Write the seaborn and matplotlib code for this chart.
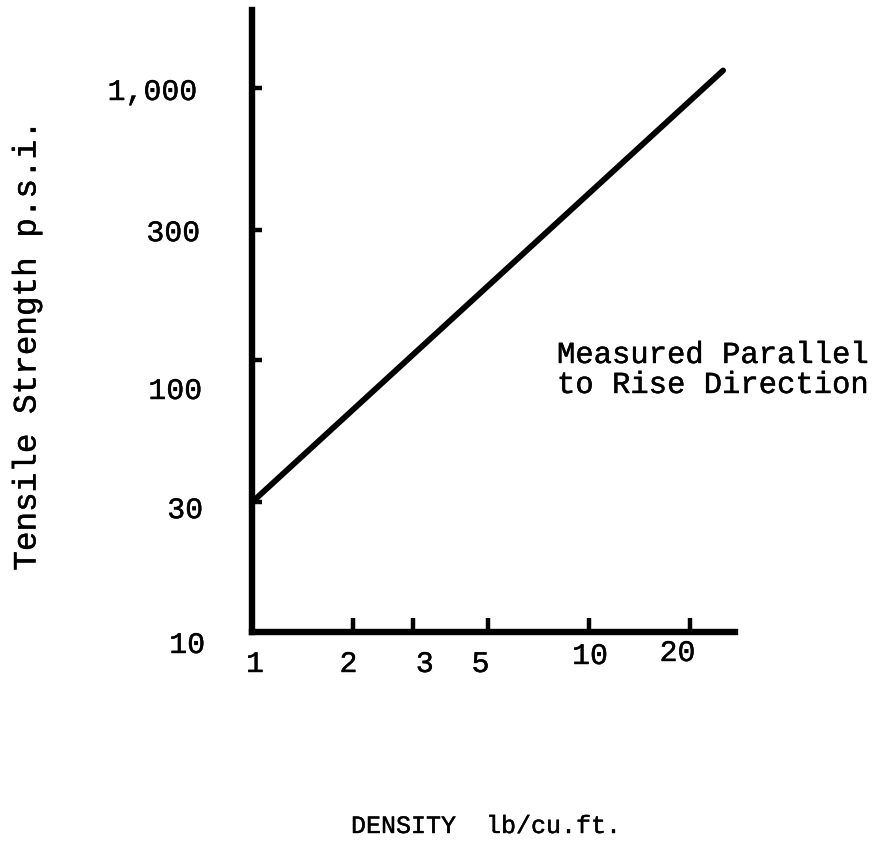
import matplotlib
matplotlib.use("Agg")
import matplotlib.pyplot as plt
import matplotlib.patheffects as pe
from matplotlib.ticker import FixedLocator, NullLocator
import numpy as np
import pandas as pd
import seaborn as sns

# ---- data ----
density = [1, 25]            # lb/cu.ft.
strength = [30, 1160]        # p.s.i.
x_ticks = [1, 2, 3, 5, 10, 20]
x_tick_labels = ["1", "2", "3", "5", "10", "20"]
y_ticks = [10, 30, 100, 300, 1000]
y_tick_labels = ["10", "30", "100", "300", "1,000"]
x_label = "DENSITY  lb/cu.ft."
y_label = "Tensile Strength p.s.i."
note_lines = ["Measured Parallel", "to Rise Direction"]

# ---- style / layout (pixel offsets of typed labels) ----
x_label_offsets = [(3, -32), (-5, -32), (12, -32), (-7, -32), (1, -24), (-13, -21)]
y_label_offsets = [(-47, -13), (-49, -8), (-50, -31), (-52, -3), (-55, -4)]

sns.set_style("white")
plt.rcParams["font.family"] = ["Liberation Mono", "DejaVu Sans"]

typed = [pe.withStroke(linewidth=0.3, foreground="black")]

W, H = 881, 844
fig = plt.figure(figsize=(W / 100, H / 100), dpi=100)
left_px, right_px, bottom_px, top_px = 252, 735, 632, 10
ax = fig.add_axes([left_px / W, 1 - bottom_px / H,
                   (right_px - left_px) / W, (bottom_px - top_px) / H])

df = pd.DataFrame({"density": density, "strength": strength})
sns.lineplot(data=df, x="density", y="strength", color="black",
             linewidth=4.2, ax=ax, solid_capstyle="round")

ax.set_xscale("log")
ax.set_yscale("log")
ax.set_xlim(1, 10 ** ((right_px - left_px) / 337))
ax.set_ylim(10, 10 ** (1 + (bottom_px - top_px) / 272))

ax.xaxis.set_major_locator(FixedLocator([t for t in x_ticks if t > 1]))
ax.xaxis.set_minor_locator(NullLocator())
ax.yaxis.set_major_locator(FixedLocator([t for t in y_ticks if t > 10]))
ax.yaxis.set_minor_locator(NullLocator())
ax.tick_params(axis="x", which="major", direction="in", length=10, width=3.2,
               color="black", labelbottom=False, bottom=True)
ax.tick_params(axis="y", which="major", direction="in", length=7.5, width=3.2,
               color="black", labelleft=False, left=True)

for s in ["top", "right"]:
    ax.spines[s].set_visible(False)
for s in ["left", "bottom"]:
    ax.spines[s].set_linewidth(4.6)
    ax.spines[s].set_color("black")

ax.set_xlabel("")
ax.set_ylabel("")

for val, lab, (dx, dy) in zip(x_ticks, x_tick_labels, x_label_offsets):
    ax.annotate(lab, xy=(val, 0), xycoords=("data", "axes fraction"),
                xytext=(dx, dy), textcoords="offset pixels",
                ha="center", va="center", fontsize=21.5, color="black",
                annotation_clip=False, path_effects=typed)
for val, lab, (dx, dy) in zip(y_ticks, y_tick_labels, y_label_offsets):
    ax.annotate(lab, xy=(0, val), xycoords=("axes fraction", "data"),
                xytext=(dx, dy), textcoords="offset pixels",
                ha="right", va="center", fontsize=21.5, color="black",
                annotation_clip=False, path_effects=typed)

fig.text(27 / W, 1 - 345 / H, y_label, rotation=90, ha="center", va="center",
         fontsize=23.5, color="black", path_effects=typed)
fig.text(486 / W, 1 - 826 / H, x_label, ha="center", va="center",
         fontsize=18, color="black", path_effects=typed)
fig.text(557 / W, 1 - 355 / H, note_lines[0], ha="left", va="center",
         fontsize=22, color="black", path_effects=typed)
fig.text(557 / W, 1 - 385 / H, note_lines[1], ha="left", va="center",
         fontsize=22, color="black", path_effects=typed)

fig.savefig("out.png", dpi=100, facecolor="white")
